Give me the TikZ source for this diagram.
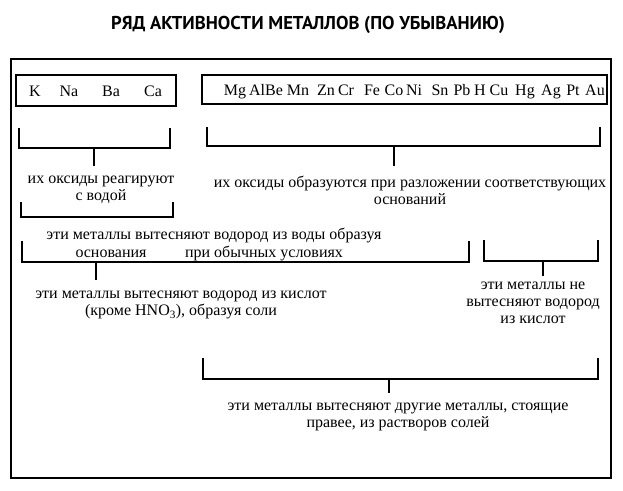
\documentclass[tikz,border=0pt]{standalone}
\usepackage{fontspec}
\setmainfont{Liberation Serif}
\newfontfamily\titlefont{PT Sans}
\usetikzlibrary{positioning}

\begin{document}
\begin{tikzpicture}[x=1pt,y=-1pt,
txt/.style={align=center,inner sep=0pt,font=\fontsize{16}{17}\selectfont},
metal/.style={anchor=base,inner sep=0pt,font=\fontsize{16}{17}\selectfont},
frame/.style={draw,line width=1.4pt},
brk/.style={draw,line width=1.2pt}]
\useasboundingbox (0,0) rectangle (623,490);
% title
\node[font=\titlefont\bfseries\fontsize{18.6}{22}\selectfont,inner sep=0pt] (title) at (308,25) {РЯД АКТИВНОСТИ МЕТАЛЛОВ (ПО УБЫВАНИЮ)};
% frames
\draw[frame] (11,59) rectangle (611,478);
\draw[frame,line width=1.2pt] (16,75) rectangle (176,106);
\draw[frame,line width=1.2pt] (202,75) rectangle (607,104);
% metals
\foreach \m/\x in {K/35,Na/69,Ba/111,Ca/153}
  \node[metal] (m\m) at (\x,96) {\m};
\foreach \m/\x in {Mg/235,AlBe/266,Mn/298,Zn/326,Cr/346,Fe/372,Co/394,Ni/414,Sn/440,Pb/462,H/480,Cu/499,Hg/525,Ag/551,Pt/573,Au/595}
  \node[metal] (m\m) at (\x,95) {\m};
% brackets
\draw[brk] (19,128) -- (19,148) -- (170,148) -- (170,128);
\draw[brk] (207,127) -- (207,146) -- (600,146) -- (600,127);
\draw[brk] (21,202) -- (21,217) -- (173,217) -- (173,202);
\draw[brk] (22,241) -- (22,262) -- (469,262) -- (469,241);
\draw[brk] (484,240) -- (484,261) -- (598,261) -- (598,240);
\draw[brk] (203,358) -- (203,379) -- (598,379) -- (598,358);
% stems
\coordinate (s1) at (94,148);
\coordinate (s2) at (394,146);
\coordinate (s4) at (96,262);
\coordinate (s5) at (543,261);
\coordinate (s6) at (389,379);
\draw[brk] (s1) -- ++(0,18);
\draw[brk] (s2) -- ++(0,20);
\draw[brk] (s4) -- ++(0,18);
\draw[brk] (s5) -- ++(0,15);
\draw[brk] (s6) -- ++(0,14);
% texts
\node[txt] (t1) at (101,190) {их оксиды реагируют\\с водой};
\node[txt] (t2) at (410,190) {их оксиды образуются при разложении соответствующих\\оснований};
\node[txt,anchor=base] (t3a) at (214,239) {эти металлы вытесняют водород из воды образуя};
\node[txt,anchor=base] (t3b) at (111,257) {основания};
\node[txt,anchor=base] (t3c) at (264,257) {при обычных условиях};
\node[txt] (t4) at (181,305) {эти металлы вытесняют водород из кислот\\(кроме HNO\textsubscript{3}), образуя соли};
\node[txt] (t5) at (533,303) {эти металлы не\\вытесняют водород\\из кислот};
\node[txt] (t6) at (398,417) {эти металлы вытесняют другие металлы, стоящие\\правее, из растворов солей};
\end{tikzpicture}
\end{document}
